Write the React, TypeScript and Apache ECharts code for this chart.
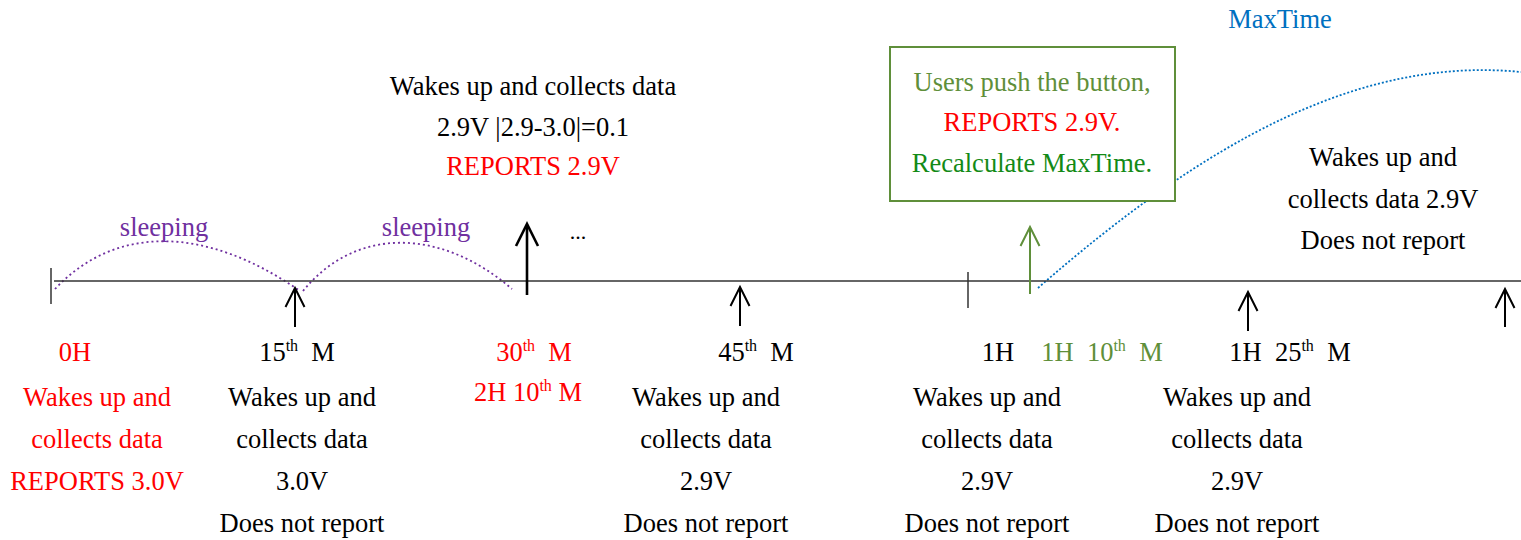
import React, { useEffect, useRef } from "react";
import * as echarts from "echarts";

const FONT = "Liberation Serif";
const FS = 26.5;
const RED = "#ff0000";
const BLACK = "#000000";
const PURPLE = "#7030a0";
const BLUE = "#0070c0";
const OLIVE = "#5f8f3a";
const GREEN = "#138a16";

// timeline event labels: [prefix, ordinal number, suffix]
const eventLabels: [string, string, string][] = [
  ["0H", "", ""],
  ["15", "th", "  M"],
  ["30", "th", "  M"],
  ["2H 10", "th", " M"],
  ["45", "th", "  M"],
  ["1H", "", ""],
  ["1H  10", "th", "  M"],
  ["1H  25", "th", "  M"],
];
const voltages = ["3.0V", "3.0V", "2.9V", "2.9V", "2.9V", "2.9V", "2.9V"];
const reportFlags = [true, false, true, false, false, true, false];

// main axis span and tick marks
const axisSpan = [[54, 281], [1521, 281]];
const tickMarks = [
  [51, 268, 304],
  [968, 272, 308],
];
// arrows: x, base y, tip y, colour, width
const arrows: [number, number, number, string, number][] = [
  [295, 327, 288, BLACK, 2],
  [527, 295, 224, BLACK, 2.6],
  [740, 326, 287, BLACK, 2],
  [1030, 294, 227, OLIVE, 2],
  [1248, 331, 292, BLACK, 2],
  [1505, 327, 289, BLACK, 2],
];

const wakeLines = ["Wakes up and", "collects data"];
const noReport = "Does not report";

function supText(l: [string, string, string]) {
  if (!l[1]) return `{n|${l[0]}}`;
  return `{n|${l[0]}}{s|${l[1]}}{n|${l[2]}}`;
}

function txt(x: number, y: number, text: string, fill: string, size = FS) {
  return {
    type: "text",
    x,
    y,
    silent: true,
    style: {
      text,
      fill,
      fontSize: size,
      fontFamily: FONT,
      align: "center",
      verticalAlign: "middle",
    },
  };
}

function rich(x: number, y: number, text: string, fill: string) {
  return {
    type: "text",
    x,
    y,
    silent: true,
    style: {
      text,
      fill,
      align: "center",
      verticalAlign: "middle",
      rich: {
        n: { fontSize: FS, fontFamily: FONT, fill, lineHeight: 30, verticalAlign: "bottom" },
        s: { fontSize: 16, fontFamily: FONT, fill, lineHeight: 30, verticalAlign: "top", padding: [2, 0, 0, 0] },
      },
    },
  };
}

export default function App() {
  const ref = useRef<HTMLDivElement>(null);
  useEffect(() => {
    if (!ref.current) return;
    const chart = echarts.init(ref.current, undefined, { renderer: "svg" });

    const graphics: any[] = [];
    // sleeping arcs
    graphics.push({
      type: "bezierCurve",
      silent: true,
      shape: { x1: 55, y1: 289, cpx1: 115, cpy1: 225, cpx2: 205, cpy2: 225, x2: 300, y2: 291 },
      style: { stroke: PURPLE, lineWidth: 1.8, lineDash: [2, 3], fill: null },
    });
    graphics.push({
      type: "bezierCurve",
      silent: true,
      shape: { x1: 303, y1: 291, cpx1: 355, cpy1: 227, cpx2: 440, cpy2: 227, x2: 512, y2: 289 },
      style: { stroke: PURPLE, lineWidth: 1.8, lineDash: [2, 3], fill: null },
    });
    // MaxTime curve
    graphics.push({
      type: "bezierCurve",
      silent: true,
      shape: { x1: 1038, y1: 288, cpx1: 1205, cpy1: 142, cpx2: 1360, cpy2: 56, x2: 1521, y2: 72 },
      style: { stroke: BLUE, lineWidth: 1.8, lineDash: [2, 2], fill: null },
    });
    // button box
    graphics.push({
      type: "rect",
      silent: true,
      shape: { x: 890, y: 47, width: 285, height: 154 },
      style: { stroke: OLIVE, lineWidth: 2, fill: "#ffffff" },
    });

    graphics.push(txt(1280, 19, "MaxTime", BLUE));
    graphics.push(txt(1032, 82, "Users push the button,", OLIVE));
    graphics.push(txt(1032, 122, "REPORTS " + voltages[5] + ".", RED));
    graphics.push(txt(1032, 163, "Recalculate MaxTime.", GREEN));

    graphics.push(txt(533, 86, "Wakes up and collects data", BLACK));
    graphics.push(txt(533, 127, "2.9V |2.9-3.0|=0.1", BLACK));
    graphics.push(txt(533, 166, "REPORTS " + voltages[2], RED));

    graphics.push(txt(1383, 157, "Wakes up and", BLACK));
    graphics.push(txt(1383, 199, "collects data " + voltages[6], BLACK));
    graphics.push(txt(1383, 240, noReport, BLACK));

    graphics.push(txt(164, 227, "sleeping", PURPLE));
    graphics.push(txt(426, 227, "sleeping", PURPLE));
    graphics.push(txt(578, 231, "...", BLACK, 22));

    // bottom labels
    const ly = 350;
    graphics.push(rich(75, ly, supText(eventLabels[0]), RED));
    graphics.push(rich(297, ly, supText(eventLabels[1]), BLACK));
    graphics.push(rich(534, ly, supText(eventLabels[2]), RED));
    graphics.push(rich(528, 390, supText(eventLabels[3]), RED));
    graphics.push(rich(756, ly, supText(eventLabels[4]), BLACK));
    graphics.push(rich(998, ly, supText(eventLabels[5]), BLACK));
    graphics.push(rich(1102, ly, supText(eventLabels[6]), OLIVE));
    graphics.push(rich(1290, ly, supText(eventLabels[7]), BLACK));

    const blocks: [number, number][] = [
      [97, 0],
      [302, 1],
      [706, 3],
      [987, 4],
      [1237, 6],
    ];
    blocks.forEach(([x, i]) => {
      const c = reportFlags[i] ? RED : BLACK;
      graphics.push(txt(x, 397, wakeLines[0], c));
      graphics.push(txt(x, 439, wakeLines[1], c));
      if (reportFlags[i]) {
        graphics.push(txt(x, 481, "REPORTS " + voltages[i], c));
      } else {
        graphics.push(txt(x, 481, voltages[i], c));
        graphics.push(txt(x, 523, noReport, c));
      }
    });

    const option: any = {
      animation: false,
      grid: { left: 0, right: 0, top: 0, bottom: 0, containLabel: false },
      xAxis: { type: "value", min: 0, max: 1521, show: false },
      yAxis: { type: "value", min: 0, max: 540, inverse: true, show: false },
      series: [
        {
          type: "line",
          data: axisSpan,
          symbol: "none",
          lineStyle: { color: "#333333", width: 1.6 },
          silent: true,
          z: 2,
        },
        {
          type: "custom",
          data: tickMarks,
          silent: true,
          renderItem: (params: any, api: any) => {
            const a = api.coord([api.value(0), api.value(1)]);
            const b = api.coord([api.value(0), api.value(2)]);
            return {
              type: "line",
              shape: { x1: a[0], y1: a[1], x2: b[0], y2: b[1] },
              style: { stroke: "#333333", lineWidth: 1.5 },
            };
          },
          z: 3,
        },
        {
          type: "custom",
          data: arrows.map((a) => [a[0], a[1], a[2]]),
          silent: true,
          renderItem: (params: any, api: any) => {
            const idx = params.dataIndex;
            const color = arrows[idx][3];
            const w = arrows[idx][4];
            const base = api.coord([api.value(0), api.value(1)]);
            const tip = api.coord([api.value(0), api.value(2)]);
            const hw = w > 2.2 ? 11 : 9.5;
            const hh = w > 2.2 ? 22 : 19;
            return {
              type: "group",
              children: [
                {
                  type: "line",
                  shape: { x1: base[0], y1: base[1], x2: tip[0], y2: tip[1] + 1 },
                  style: { stroke: color, lineWidth: w },
                },
                {
                  type: "polyline",
                  shape: {
                    points: [
                      [tip[0] - hw, tip[1] + hh],
                      [tip[0], tip[1]],
                      [tip[0] + hw, tip[1] + hh],
                    ],
                  },
                  style: { stroke: color, lineWidth: w, fill: null, lineJoin: "miter" },
                },
              ],
            };
          },
          z: 4,
        },
      ],
      graphic: graphics,
    };
    chart.setOption(option);
    return () => chart.dispose();
  }, []);
  return (
    <div
      ref={ref}
      style={{ position: "fixed", left: 0, top: 0, width: 1521, height: 540, background: "#ffffff" }}
    />
  );
}
